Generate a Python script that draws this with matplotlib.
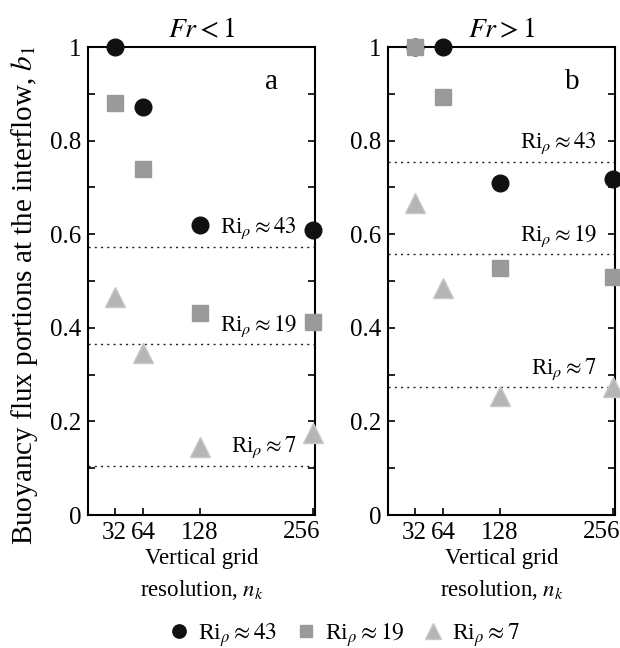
import numpy as np
import matplotlib
matplotlib.use("Agg")
import matplotlib.pyplot as plt

plt.rcParams['font.family'] = ['Liberation Serif', 'DejaVu Serif']
plt.rcParams['mathtext.fontset'] = 'stix'

# grid resolutions
nk = [32, 64, 128, 256]

# panel a, Fr < 1
a_ri43 = [1.0, 0.872, 0.62, 0.61]
a_ri19 = [0.88, 0.74, 0.431, 0.412]
a_ri7 = [0.466, 0.346, 0.146, 0.176]
a_levels = [0.573, 0.365, 0.105]

# panel b, Fr > 1
b_ri43 = [1.0, 1.0, 0.71, 0.719]
b_ri19 = [1.0, 0.894, 0.528, 0.509]
b_ri7 = [0.667, 0.485, 0.255, 0.274]
b_levels = [0.755, 0.557, 0.273]

level_names = ["Ri$_\\rho\\approx 43$", "Ri$_\\rho\\approx 19$", "Ri$_\\rho\\approx 7$"]
legend_names = ["Ri$_\\rho\\approx 43$", "Ri$_\\rho\\approx 19$", "Ri$_\\rho\\approx 7$"]
titles = ["$Fr < 1$", "$Fr > 1$"]
letters = ["a", "b"]

fig = plt.figure(figsize=(6.2, 6.48), dpi=100)
ax1 = fig.add_axes([0.1419, 0.2052, 0.3661, 0.7222])
ax2 = fig.add_axes([0.6258, 0.2052, 0.3661, 0.7222])

panels = [(ax1, a_ri43, a_ri19, a_ri7, a_levels),
          (ax2, b_ri43, b_ri19, b_ri7, b_levels)]

handles = []
for i, (ax, c, s, t, lev) in enumerate(panels):
    h1, = ax.plot(nk, c, 'o', ms=12, color='#111111', mec='#111111', clip_on=False, zorder=3)
    h2, = ax.plot(nk, s, 's', ms=11, color='#9a9a9c', mec='#9a9a9c', clip_on=False, zorder=4)
    h3, = ax.plot(nk, t, '^', ms=15, color='#b5b5b7', mec='#c8c8c8', clip_on=False, zorder=5)
    if i == 0:
        handles = [h1, h2, h3]
    for y, name in zip(lev, level_names):
        ax.axhline(y, color='#222222', ls=(0, (1.5, 3)), lw=1.0, zorder=1)
        ax.text(0.92, y + 0.012, name, transform=ax.get_yaxis_transform(),
                ha='right', va='bottom', fontsize=16.5)
    ax.set_xlim(2, 258)
    ax.set_ylim(0, 1)
    ax.set_xticks(nk)
    # last label sits a little left of its tick (edge of the figure)
    ax.set_xticklabels([str(n) for n in nk[:-1]] + [''], fontsize=18)
    ax.annotate(str(nk[-1]), xy=(nk[-1], 0), xycoords=('data', 'axes fraction'),
                xytext=(-8.5, -4.5), textcoords='offset points', ha='center', va='top', fontsize=18)
    ax.set_yticks([0, 0.2, 0.4, 0.6, 0.8, 1.0])
    ax.set_yticklabels(['0', '0.2', '0.4', '0.6', '0.8', '1'], fontsize=18)
    ax.set_yticks(np.arange(0.1, 1.0, 0.2), minor=True)
    ax.tick_params(axis='y', which='both', direction='in', right=True, length=5, width=1.2, pad=5)
    ax.tick_params(axis='x', direction='in', length=5, width=1.2, top=False, pad=5)
    for sp in ax.spines.values():
        sp.set_linewidth(1.5)
    ax.set_title(titles[i], fontsize=20, pad=7)
    ax.text(0.81, 0.925, letters[i], transform=ax.transAxes, fontsize=21, ha='center', va='center')
    ax.set_xlabel("Vertical grid\nresolution, $n_k$", fontsize=16.5, labelpad=3, linespacing=1.5)

ax1.set_ylabel("Buoyancy flux portions at the interflow, $b_1$", fontsize=21)
ax1.yaxis.set_label_coords(-0.21, 0.47)

fig.legend(handles, legend_names, loc='center', ncol=3, frameon=False,
           fontsize=17, bbox_to_anchor=(0.552, 0.02), handletextpad=0.2, columnspacing=0.6,
           markerscale=0.8, handlelength=1.2)

fig.savefig("out.png", dpi=100)
